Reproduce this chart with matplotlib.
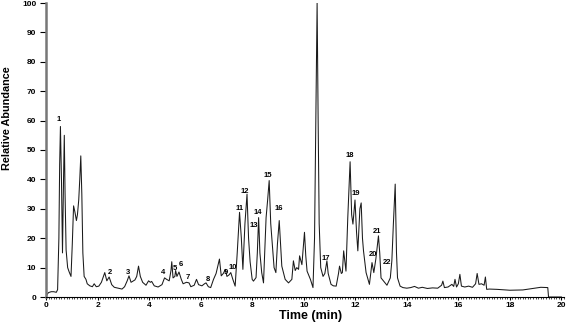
import matplotlib
matplotlib.use("Agg")
import matplotlib.pyplot as plt
from matplotlib.ticker import MultipleLocator

plt.rcParams['font.family'] = ['Liberation Sans', 'DejaVu Sans']
plt.rcParams['font.weight'] = 'bold'

# chromatogram trace (time in min, relative abundance)
time_min = [0.0, 0.05, 0.1, 0.2, 0.3, 0.4, 0.45, 0.5, 0.53, 0.56, 0.6, 0.64, 0.68, 0.71,
            0.74, 0.78, 0.84, 0.9, 0.97, 1.02, 1.07, 1.12, 1.18, 1.22, 1.27, 1.31, 1.35,
            1.39, 1.43, 1.48, 1.55, 1.6, 1.7, 1.8, 1.87, 1.95, 2.05, 2.15, 2.28, 2.36, 2.45,
            2.55, 2.65, 2.8, 2.95, 3.05, 3.15, 3.22, 3.3, 3.45, 3.52, 3.59, 3.66, 3.75, 3.88,
            3.98, 4.05, 4.1, 4.2, 4.35, 4.5, 4.6, 4.68, 4.78, 4.85, 4.88, 4.93, 5.0, 5.03,
            5.08, 5.16, 5.25, 5.32, 5.45, 5.55, 5.62, 5.75, 5.84, 5.92, 6.05, 6.15, 6.21,
            6.3, 6.39, 6.5, 6.6, 6.73, 6.8, 6.88, 6.96, 7.02, 7.1, 7.17, 7.25, 7.34, 7.42,
            7.51, 7.58, 7.64, 7.72, 7.8, 7.86, 7.92, 8.0, 8.05, 8.15, 8.2, 8.25, 8.3, 8.37,
            8.44, 8.54, 8.6, 8.66, 8.72, 8.78, 8.85, 8.92, 8.98, 9.05, 9.1, 9.15, 9.28, 9.41,
            9.54, 9.6, 9.67, 9.73, 9.8, 9.84, 9.93, 10.03, 10.08, 10.13, 10.26, 10.36, 10.42,
            10.47, 10.52, 10.56, 10.6, 10.66, 10.75, 10.82, 10.9, 10.95, 11.06, 11.15, 11.26,
            11.35, 11.39, 11.46, 11.5, 11.55, 11.64, 11.71, 11.8, 11.86, 11.91, 11.99, 12.05,
            12.1, 12.18, 12.23, 12.28, 12.32, 12.42, 12.55, 12.65, 12.72, 12.8, 12.9, 12.95,
            13.0, 13.1, 13.23, 13.36, 13.42, 13.48, 13.55, 13.6, 13.64, 13.74, 13.85, 14.0,
            14.15, 14.3, 14.45, 14.6, 14.8, 15.0, 15.2, 15.35, 15.4, 15.46, 15.6, 15.75,
            15.82, 15.87, 15.93, 16.0, 16.06, 16.12, 16.25, 16.4, 16.55, 16.67, 16.73, 16.8,
            16.9, 17.0, 17.05, 17.1, 17.2, 17.5, 18.0, 18.5, 18.8, 19.0, 19.2, 19.47, 19.5,
            20.0]
abundance = [0, 1.0, 1.5, 1.8, 1.8, 1.6, 2.5, 20, 45, 58, 40, 15, 40, 55,
             35, 16, 10, 8.5, 7, 18, 31, 29, 26, 28, 33, 40, 48,
             35, 15, 7, 6, 4.5, 3.8, 3.5, 4.5, 3.5, 3.7, 5, 8.3, 5.5, 6.8,
             4.2, 3.3, 3.0, 2.7, 3.5, 5.5, 7.2, 5, 5.8, 7, 10.5, 7, 5, 4,
             5.5, 5, 5.3, 3.8, 3.4, 4.2, 6.5, 6, 5.5, 9, 12, 6.5, 7, 9,
             7, 8.5, 6, 4.5, 5, 4.8, 3.5, 4, 6, 4.2, 3.8, 4.5, 4.8,
             3.5, 3.2, 6, 8, 12.9, 7.2, 8, 9.4, 7, 7.5, 8.3, 6, 3.7, 15,
             28.8, 20, 9.4, 25, 35, 20, 12, 6, 5.4, 6.6, 15, 27, 15, 8.3,
             4.8, 27, 33, 39.6, 25, 18, 10, 8.3, 18, 26, 18, 10.5, 6, 4.8,
             6, 12.3, 9, 10, 9.4, 14, 11, 22, 14, 8.8, 6, 3.2, 20,
             60, 100, 60, 25, 10, 7, 8, 12.3, 8, 4.3, 3.8, 3.7,
             8, 10.5, 8, 8.3, 15.7, 8.8, 27, 46, 28, 24.8, 33, 22,
             15.7, 30, 32, 20, 15.7, 8.3, 4.3, 11.7, 8.3, 13, 20.8, 15,
             6.5, 5.4, 4, 6.5, 12.3, 25, 38.4, 15, 6.5, 3.7, 3.2, 3,
             3.2, 3.6, 3.0, 3.3, 2.9, 3.1, 3.0, 4, 5.4, 3.2, 3.4, 4.3,
             3.6, 6, 3.4, 4.5, 7.7, 3.7, 3.4, 3.7, 3.3, 4.5, 8, 4.3,
             4.5, 4, 6.8, 2.6, 2.7, 2.6, 2.3, 2.4, 2.8, 3.1, 3.3, 3.2, 0,
             0]

# peak labels
peak_ids = [str(i) for i in range(1, 23)]
peak_t = [0.5, 2.49, 3.18, 4.54, 5.01, 5.24, 5.5, 6.29, 6.99, 7.26, 7.5, 7.73,
          8.08, 8.23, 8.62, 9.05, 10.87, 11.8, 12.04, 12.7, 12.85, 13.24]
peak_y = [60.4, 8.2, 8.2, 8.2, 9.6, 10.9, 6.5, 5.8, 8.5, 10.2, 30, 36,
          24.2, 28.7, 41.3, 30, 13, 48, 35.2, 14.3, 22.2, 11.9]

fig = plt.figure(figsize=(5.67, 3.22), dpi=100)
ax = fig.add_axes([46 / 567, 1 - 297 / 322, 518 / 567, 294 / 322])

ax.plot(time_min, abundance, color="#1a1a1a", linewidth=0.75)
for lab, t, y in zip(peak_ids, peak_t, peak_y):
    ax.text(t, y, lab, fontsize=5.5, fontweight="bold", ha="center", va="center")

ax.set_xlim(0, 20.1)
ax.set_ylim(0, 100)
ax.xaxis.set_major_locator(MultipleLocator(2))
ax.xaxis.set_minor_locator(MultipleLocator(0.1))
ax.yaxis.set_major_locator(MultipleLocator(10))

for s in ["top", "right"]:
    ax.spines[s].set_visible(False)
ax.spines["left"].set_color("#777777")
ax.spines["left"].set_linewidth(1.8)
ax.spines["bottom"].set_linewidth(0.8)

ax.tick_params(axis="y", which="major", labelsize=6, length=4, width=0.8, pad=3)
ax.tick_params(axis="x", which="major", labelsize=6, length=2.5, width=0.8, pad=1)
ax.tick_params(axis="x", which="minor", length=1.5, width=0.5)
for lbl in ax.get_xticklabels() + ax.get_yticklabels():
    lbl.set_fontweight("bold")

fig.text(311 / 567, 1 - 316 / 322, "Time (min)", fontsize=9, fontweight="bold",
         ha="center", va="center")
fig.text(7 / 567, 1 - 118 / 322, "Relative Abundance", fontsize=7.8, fontweight="bold",
         ha="center", va="center", rotation=90)

fig.savefig("out.png", dpi=100)
